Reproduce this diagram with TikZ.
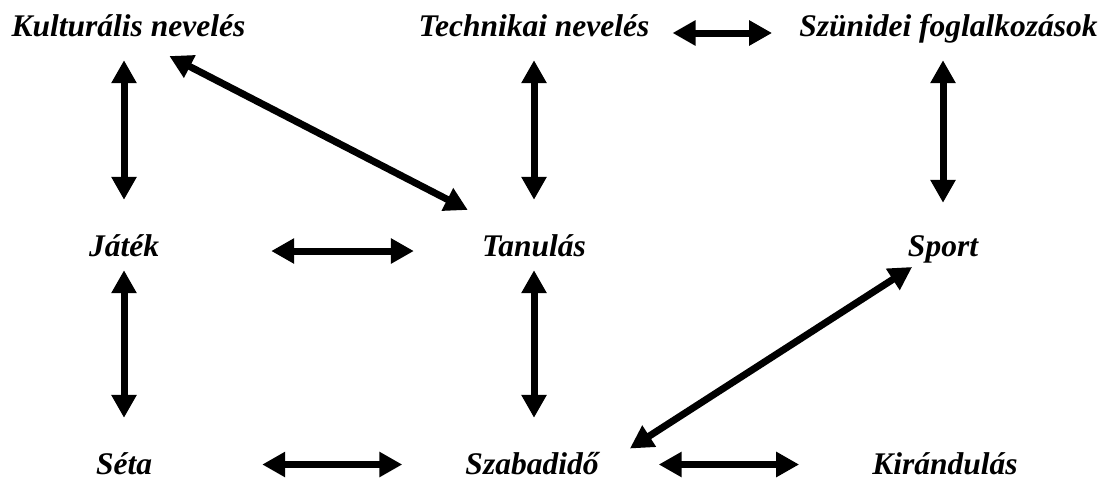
\documentclass[tikz,border=0pt]{standalone}
\usepackage{fontspec}
\setmainfont{Liberation Serif}
\usetikzlibrary{arrows.meta}

\begin{document}
\begin{tikzpicture}[x=1pt,y=-1pt,
  lbl/.style={font=\fontsize{31.5}{36}\selectfont\bfseries\itshape, inner sep=0pt,
              text height=22pt, text depth=7pt, anchor=base},
  lowlbl/.style={lbl, text depth=2pt},
  dbl/.style={line width=7pt,
              {Triangle[length=23pt,width=24pt]}-{Triangle[length=23pt,width=24pt]}}]
\useasboundingbox (0,0) rectangle (1105,480);

\node[lbl] (kult) at (128.5,36) {Kulturális nevelés};
\node[lbl] (tech) at (534,36) {Technikai nevelés};
\node[lbl] (szun) at (948.5,36) {Szünidei foglalkozások};
\node[lbl] (jatek) at (124,256) {Játék};
\node[lbl] (tan) at (534,256) {Tanulás};
\node[lbl] (sport) at (943,256) {Sport};
\node[lowlbl] (seta) at (124,474.5) {Séta};
\node[lowlbl] (szab) at (532,474.5) {Szabadidő};
\node[lowlbl] (kir) at (945,474.5) {Kirándulás};

% upper row
\draw[dbl, shorten <=17pt, shorten >=34pt] (jatek.north |- kult.south) -- (jatek.north);
\draw[dbl, shorten <=17pt, shorten >=34pt] (tan.north |- tech.south) -- (tan.north);
\draw[dbl, shorten <=17pt, shorten >=31pt] (sport.north |- szun.south) -- (sport.north);
\draw[dbl, shorten <=23pt, shorten >=27pt] ([yshift=-4.5pt]tech.east) -- ([yshift=-4.5pt]szun.west);
\draw[dbl, shorten <=28pt, shorten >=52pt] ([xshift=16pt]kult.south) -- ([xshift=-20pt]tan.north);

% lower row
\draw[dbl, shorten <=112pt, shorten >=68pt] ([yshift=-2.5pt]jatek.east) -- ([yshift=-2.5pt]tan.west);
\draw[dbl, shorten <=7pt, shorten >=34.5pt] (jatek.south) -- (jatek.south |- seta.north);
\draw[dbl, shorten <=7pt, shorten >=34.5pt] (tan.south) -- (tan.south |- szab.north);
\draw[dbl, shorten <=7pt, shorten >=7pt] ([xshift=-25pt]sport.south) -- ([xshift=92pt]szab.north);
\draw[dbl, shorten <=110pt, shorten >=63pt] (seta.east) -- (szab.west);
\draw[dbl, shorten <=60pt, shorten >=73pt] (szab.east) -- (kir.west);
\end{tikzpicture}
\end{document}
